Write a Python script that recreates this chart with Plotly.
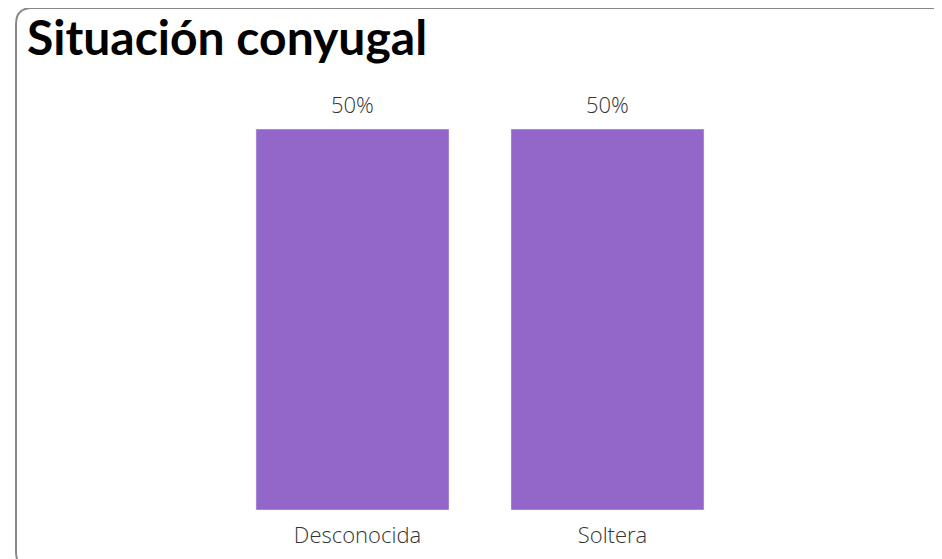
import plotly.graph_objects as go

categories = ["Desconocida", "Soltera"]
values = [50, 50]
labels = ["50%", "50%"]

W, H = 942, 559
L, R, T, B = 217, 215, 121, 57
pw, ph = W - L - R, H - T - B

def px(x):
    return (x - L) / pw

def py(y):
    return (H - B - y) / ph

fig = go.Figure(go.Bar(
    x=categories, y=values, marker_color="#9366c9", cliponaxis=False,
))

for c, v, t in zip(categories, values, labels):
    fig.add_annotation(x=c, y=v, text=t, showarrow=False, yanchor="bottom", yshift=8,
                       font=dict(family="Open Sans", size=22, color="#333333", weight=300))

# rounded border
x0, y0, x1, y1, r = 8, 0, 944, 560, 16
path = (f"M {px(x0+r)},{py(y0)} L {px(x1-r)},{py(y0)} Q {px(x1)},{py(y0)} {px(x1)},{py(y0+r)} "
        f"L {px(x1)},{py(y1-r)} Q {px(x1)},{py(y1)} {px(x1-r)},{py(y1)} "
        f"L {px(x0+r)},{py(y1)} Q {px(x0)},{py(y1)} {px(x0)},{py(y1-r)} "
        f"L {px(x0)},{py(y0+r)} Q {px(x0)},{py(y0)} {px(x0+r)},{py(y0)} Z")
fig.add_shape(type="path", path=path, xref="paper", yref="paper",
              line=dict(color="#888888", width=2), layer="below")

fig.update_layout(
    width=W, height=H, margin=dict(l=L, r=R, t=T, b=B),
    paper_bgcolor="white", plot_bgcolor="white",
    bargap=0.243, showlegend=False,
    title=dict(text="<b>Situación conyugal</b>", xref="container", yref="container",
               x=19 / W, xanchor="left", y=1 - 30 / H, yanchor="middle",
               font=dict(family="Lato", size=48, color="#000000", weight=900)),
    xaxis=dict(showgrid=False, zeroline=False, showline=False, ticks="",
               ticklabelstandoff=10, ticklabelshift=5,
               tickfont=dict(family="Open Sans", size=22, color="#333333", weight=300)),
    yaxis=dict(range=[0, 50], visible=False),
)
fig.write_html("out.html")
